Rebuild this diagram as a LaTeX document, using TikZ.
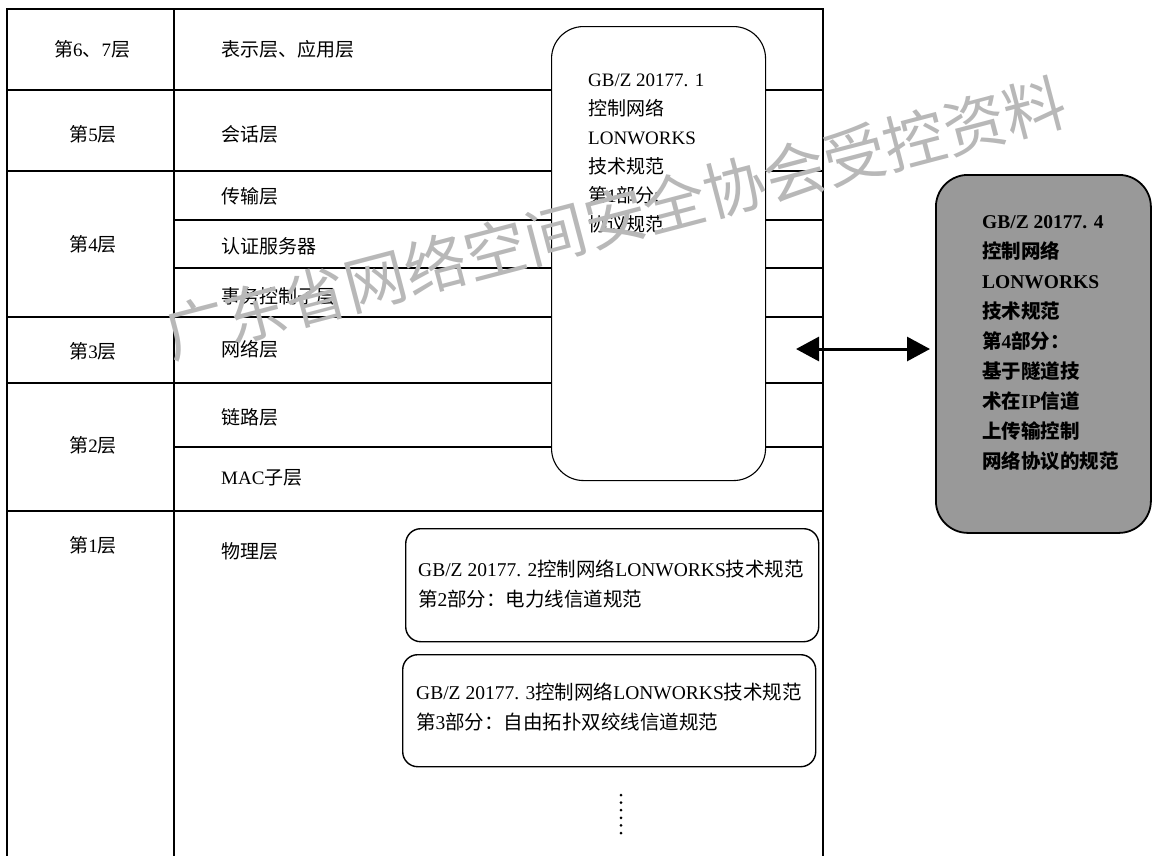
\documentclass[tikz,border=0pt]{standalone}
\usepackage{fontspec}
\setmainfont{Noto Sans CJK SC}
\newfontfamily\lt{Liberation Serif}
\newcommand\la[1]{{\lt #1}}
\usetikzlibrary{arrows.meta}
\begin{document}
\begin{tikzpicture}[x=1pt,y=-1pt,
  tl/.style={line width=1.7pt, line cap=rect},
  lab/.style={font=\fontsize{19}{22}\selectfont, inner sep=0pt},
  rlab/.style={lab, anchor=west},
  spectext/.style={font=\fontsize{19}{29}\selectfont, inner sep=0pt, anchor=west, align=left},
  tallbox/.style={draw, fill=white, line width=1.1pt, rounded corners=32pt, anchor=north west, inner sep=0pt},
  wide/.style={draw, fill=white, line width=1.4pt, rounded corners=15pt, anchor=north west, inner sep=0pt},
  greybox/.style={draw, fill=black!40, line width=1.8pt, rounded corners=32pt, anchor=north west, inner sep=0pt},
  dbl/.style={line width=3pt, {Triangle[length=23pt,width=24pt]}-{Triangle[length=23pt,width=24pt]}},
  wmark/.style={text=black!28, font=\fontsize{62}{62}\selectfont, rotate=14.7, inner sep=0pt}
]
\useasboundingbox (0,0) rectangle (1153,855);
% table frame
\draw[tl] (7,855) -- (7,9) -- (823,9) -- (823,855);
\draw[tl] (174,9) -- (174,855);
\foreach \yy in {90,171,317,383,511} \draw[tl] (7,\yy) -- (823,\yy);
\foreach \yy in {220,268,447} \draw[tl] (174,\yy) -- (823,\yy);
% layer labels
\node[lab] (l67) at (92,49) {第\la{6}、\la{7}层};
\node[lab] (l5) at (93,134) {第\la{5}层};
\node[lab] (l4) at (93,244) {第\la{4}层};
\node[lab] (l3) at (93,351) {第\la{3}层};
\node[lab] (l2) at (93,445) {第\la{2}层};
\node[lab] (l1) at (93,545) {第\la{1}层};
\node[rlab] (r1) at (221,49) {表示层、应用层};
\node[rlab] (r2) at (221,134) {会话层};
\node[rlab] (r3) at (221,196) {传输层};
\node[rlab] (r4) at (221,246) {认证服务器};
\node[rlab] (r5) at (221,296) {事务控制子层};
\node[rlab] (r6) at (221,349) {网络层};
\node[rlab] (r7) at (221,417) {链路层};
\node[rlab] (r8) at (221,478) {\la{MAC}子层};
\node[rlab] (r9) at (221,551) {物理层};
% part 1 box
\node[tallbox, minimum width=214pt, minimum height=454pt] (spec1) at (551,26) {};
\node[spectext] (spec1t) at (588,154) {\la{GB/Z 20177. 1}\\控制网络\\\la{LONWORKS}\\技术规范\\第\la{1}部分:\\协议规范};
% part 4 box
\node[greybox, minimum width=215pt, minimum height=358pt] (spec4) at (935,174) {};
\node[spectext, font=\fontsize{19.5}{30}\selectfont\bfseries] (spec4t) at (982,343) {{\lt\bfseries GB/Z 20177. 4}\\控制网络\\{\lt\bfseries LONWORKS}\\技术规范\\第{\lt\bfseries 4}部分：\\基于隧道技\\术在{\lt\bfseries IP}信道\\上传输控制\\网络协议的规范};
\coordinate (arrL) at (796,349);
\draw[dbl, shorten >=5pt] (arrL) -- (arrL -| spec4.west);
% part 2 and 3 boxes
\node[wide, minimum width=413pt, minimum height=113pt] (spec2) at (405,528) {};
\node[spectext, font=\fontsize{19.5}{30}\selectfont] (spec2t) at (418,584) {\la{GB/Z 20177. 2}控制网络\la{LONWORKS}技术规范\\第\la{2}部分：电力线信道规范};
\node[wide, minimum width=413pt, minimum height=112pt] (spec3) at (402,654) {};
\node[spectext, font=\fontsize{19.5}{30}\selectfont] (spec3t) at (416,707) {\la{GB/Z 20177. 3}控制网络\la{LONWORKS}技术规范\\第\la{3}部分：自由拓扑双绞线信道规范};
% continuation dots
\foreach \k in {0,...,5} \fill (621,795+\k*7.6) circle (1.5pt);
% watermark
\node[wmark] (wm) at (615,218) {广东省网络空间安全协会受控资料};
\end{tikzpicture}
\end{document}
